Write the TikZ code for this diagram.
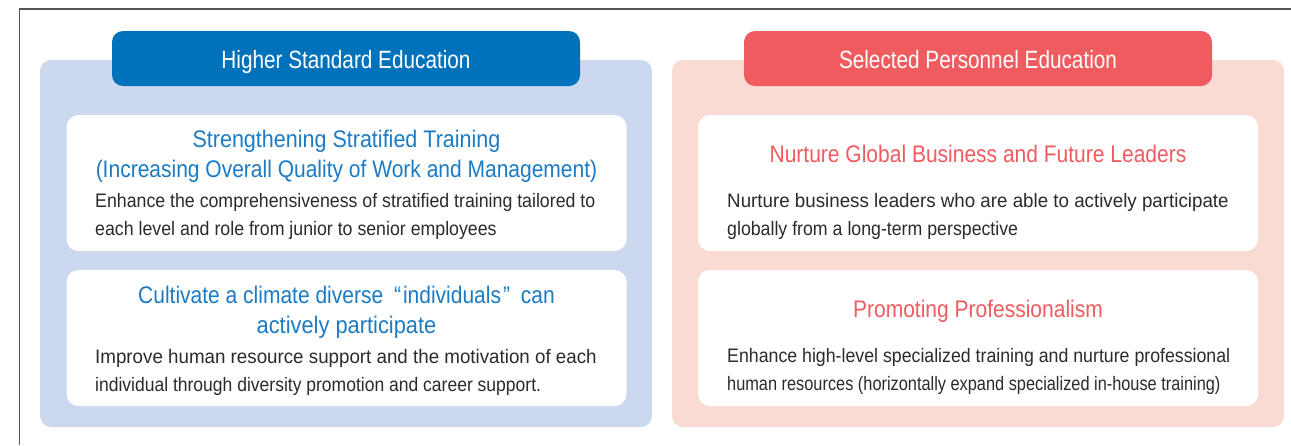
\documentclass[tikz,border=0pt]{standalone}
\usepackage{fontspec}
\usepackage{graphicx}
\setmainfont{Liberation Sans}[FakeStretch=0.83]
\newfontfamily\headfont{Liberation Sans}[FakeStretch=0.875]
\newfontfamily\bodyfont{Liberation Sans}[FakeStretch=0.91]
\definecolor{framecol}{HTML}{555555}
\definecolor{bluepanel}{HTML}{CBD8EE}
\definecolor{bluetitle}{HTML}{0072BC}
\definecolor{bluetext}{HTML}{1B7BC4}
\definecolor{redpanel}{HTML}{FADBD3}
\definecolor{redtitle}{HTML}{EF5B5E}
\definecolor{redtext}{HTML}{EF5B5E}
\definecolor{bodycol}{HTML}{2B2B2B}
\begin{document}
\begin{tikzpicture}[x=1pt,y=-1pt,
  panel/.style={rounded corners=11pt, inner sep=0pt, outer sep=0pt, minimum width=612pt, minimum height=367pt},
  titlebox/.style={rounded corners=11pt, inner sep=0pt, outer sep=0pt, minimum width=468pt, minimum height=55pt},
  whitebox/.style={fill=white, rounded corners=12pt, inner sep=0pt, outer sep=0pt, minimum width=560pt, minimum height=136pt},
  titletext/.style={font=\fontsize{25}{30}\selectfont, text=white, inner sep=0pt, anchor=base},
  headL/.style={font=\headfont\fontsize{24}{30}\selectfont, text=bluetext, align=center, inner sep=0pt, anchor=base},
  headR/.style={font=\headfont\fontsize{24}{30}\selectfont, text=redtext, align=center, inner sep=0pt, anchor=base},
  bodytext/.style={font=\bodyfont\fontsize{19.5}{28}\selectfont, text=bodycol, align=left, inner sep=0pt, anchor=base west}
]
\useasboundingbox (0,0) rectangle (1291,445);
% frame
\coordinate (fbl) at (19.5,445);
\coordinate (ftl) at (19.5,9);
\coordinate (ftr) at (1291,9);
\draw[framecol, line width=1.5pt] (fbl) -- (ftl) -- (ftr);

% left panel
\node[panel, fill=bluepanel] (pl) at (346,243.5) {};
\node[titlebox, fill=bluetitle] (tl) at (346,58.5) {};
\node[titletext] (tlt) at (346,68) {Higher Standard Education};
\node[whitebox] (wl1) at (346.5,183) {};
\node[whitebox] (wl2) at (346.5,338) {};
\node[headL] (hl1) at (346.5,177) {\scalebox{1.025}[1]{Strengthening Stratified Training}\\(Increasing Overall Quality of Work and Management)};
\node[bodytext] (bl1) at (95,235) {Enhance the comprehensiveness of stratified training tailored to\\each level and role from junior to senior employees};
\node[headL] (hl2) at (346.5,333) {Cultivate a climate diverse\hspace{0.45em}“\hspace{2pt}individuals\hspace{2pt}”\hspace{0.45em}can\\\scalebox{1.04}[1]{actively participate}};
\node[bodytext] (bl2) at (95,391) {\scalebox{1.057}[1]{Improve human resource support and the motivation of each}\\\scalebox{0.987}[1]{individual through diversity promotion and career support.}};

% right panel
\node[panel, fill=redpanel] (pr) at (978,243.5) {};
\node[titlebox, fill=redtitle] (tr) at (978,58.5) {};
\node[titletext] (trt) at (978,68) {Selected Personnel Education};
\node[whitebox] (wr1) at (978,183) {};
\node[whitebox] (wr2) at (978,338) {};
\node[headR] (hr1) at (978,162) {Nurture Global Business and Future Leaders};
\node[bodytext] (br1) at (727,235) {\scalebox{1.057}[1]{Nurture business leaders who are able to actively participate}\\globally from a long-term perspective};
\node[headR] (hr2) at (978,317) {Promoting Professionalism};
\node[bodytext] (br2) at (727,390) {Enhance high-level specialized training and nurture professional\\\scalebox{0.921}[1]{human resources (horizontally expand specialized in-house training)}};
\end{tikzpicture}
\end{document}
